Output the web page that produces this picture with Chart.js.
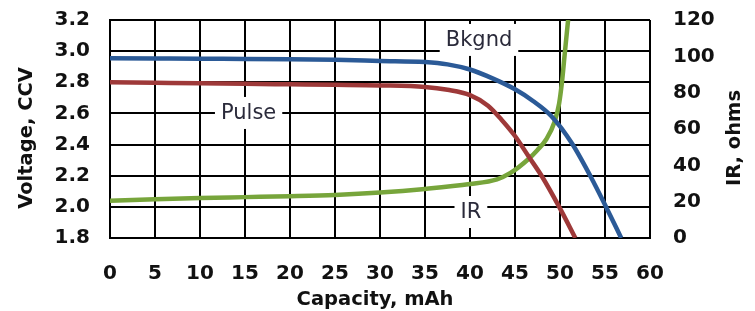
<!DOCTYPE html>
<html><head><meta charset="utf-8">
<script src="https://cdn.jsdelivr.net/npm/chart.js@4"></script>
<style>html,body{margin:0;padding:0;background:#fff;overflow:hidden;}</style>
</head><body>
<canvas id="c" width="755" height="311"></canvas>
<script>
// Tick labels
const capacityTicks = [0, 5, 10, 15, 20, 25, 30, 35, 40, 45, 50, 55, 60];
const voltageTicks = [1.8, 2.0, 2.2, 2.4, 2.6, 2.8, 3.0, 3.2];
const irTicks = [0, 20, 40, 60, 80, 100, 120];

// Axis titles
const xTitle = 'Capacity, mAh';
const yTitle = 'Voltage, CCV';
const y1Title = 'IR, ohms';

// Bkgnd (voltage, left axis)
const capBkgnd = [0, 5, 10, 15, 20, 25, 30, 35, 37.5, 40, 42.5, 45, 47, 49, 51.3, 53.4, 55.2, 56.8];
const voltBkgnd = [2.955, 2.953, 2.951, 2.95, 2.948, 2.944, 2.937, 2.93, 2.915, 2.882, 2.825, 2.755, 2.68, 2.585, 2.41, 2.195, 1.99, 1.80];

// Pulse (voltage, left axis)
const capPulse = [0, 5, 10, 15, 20, 25, 30, 35, 37.5, 40, 42, 43.5, 45, 46.5, 48, 50, 51.7];
const voltPulse = [2.80, 2.797, 2.794, 2.79, 2.787, 2.784, 2.78, 2.77, 2.752, 2.718, 2.65, 2.56, 2.455, 2.325, 2.195, 1.99, 1.80];

// IR (ohms, right axis)
const capIR = [0, 5, 10, 15, 20, 25, 30, 35, 40, 43, 44.5, 46.5, 47.5, 48.5, 49.4, 49.9, 50.2, 50.5, 50.9];
const irOhms = [20.5, 21.3, 22, 22.5, 23, 23.7, 25, 27, 29.7, 32.3, 35.8, 43.5, 48.5, 54.5, 64, 74, 85, 100, 120];

// In-plot labels
const plotLabels = ['Bkgnd', 'Pulse', 'IR'];
const labelCapacity = [41.0, 15.4, 40.1];
const labelVoltage = [3.072, 2.603, 1.967];

const FONT = '"DejaVu Sans", Verdana, sans-serif';
const tickFont = { family: FONT, size: 20, weight: 'bold' };
const toPts = (xs, ys) => xs.map((x, i) => ({ x: x, y: ys[i] }));

const labelPlugin = {
  id: 'plotLabels',
  beforeDatasetsDraw(chart) {
    const ctx = chart.ctx, xs = chart.scales.x, ys = chart.scales.y;
    ctx.save();
    ctx.font = '21px ' + FONT;
    ctx.textAlign = 'center';
    ctx.textBaseline = 'middle';
    plotLabels.forEach((t, i) => {
      const px = xs.getPixelForValue(labelCapacity[i]);
      const py = ys.getPixelForValue(labelVoltage[i]);
      const w = ctx.measureText(t).width + 12;
      ctx.fillStyle = '#fff';
      ctx.fillRect(px - w / 2, py - 16, w, 32);
      ctx.fillStyle = '#2a2a3a';
      ctx.fillText(t, px, py + 1);
    });
    ctx.restore();
  },
  afterDraw(chart) {
    const ctx = chart.ctx, a = chart.chartArea;
    const ys = chart.scales.y, y1 = chart.scales.y1;
    const cy = (a.top + a.bottom) / 2 + 9;
    ctx.save();
    ctx.fillStyle = '#111';
    ctx.font = 'bold 19.5px ' + FONT;
    ctx.textAlign = 'center';
    ctx.textBaseline = 'middle';
    ctx.fillText(xTitle, (a.left + a.right) / 2 - 5, chart.height - 11);
    ctx.save();
    ctx.translate(ys.left + 27, cy);
    ctx.rotate(-Math.PI / 2);
    ctx.fillText(yTitle, 0, 0);
    ctx.restore();
    ctx.save();
    ctx.translate(y1.right - 20, cy);
    ctx.rotate(-Math.PI / 2);
    ctx.fillText(y1Title, 0, 0);
    ctx.restore();
    ctx.restore();
  }
};

const lineStyle = { borderWidth: 4.5, pointRadius: 0, cubicInterpolationMode: 'monotone', fill: false };

new Chart(document.getElementById('c'), {
  type: 'line',
  data: {
    datasets: [
      Object.assign({ label: 'Bkgnd', data: toPts(capBkgnd, voltBkgnd), yAxisID: 'y', borderColor: '#2b5a97' }, lineStyle),
      Object.assign({ label: 'Pulse', data: toPts(capPulse, voltPulse), yAxisID: 'y', borderColor: '#9e3939' }, lineStyle),
      Object.assign({ label: 'IR', data: toPts(capIR, irOhms), yAxisID: 'y1', borderColor: '#77a53b' }, lineStyle)
    ]
  },
  options: {
    responsive: false,
    animation: false,
    devicePixelRatio: 1,
    layout: { padding: { top: 20, left: 0, right: 0, bottom: 0 } },
    plugins: { legend: { display: false }, tooltip: { enabled: false } },
    scales: {
      x: {
        type: 'linear', position: 'bottom', min: 0, max: 60,
        afterBuildTicks: s => { s.ticks = capacityTicks.map(v => ({ value: v })); },
        afterFit: s => { s.height = 73; s.paddingLeft = 0; s.paddingRight = 0; },
        ticks: { font: tickFont, color: '#111', padding: 24, maxRotation: 0, autoSkip: false },
        grid: { color: '#000', lineWidth: 2, drawTicks: false },
        border: { color: '#000', width: 2 },
        title: { display: false }
      },
      y: {
        position: 'left', min: 1.8, max: 3.2,
        afterBuildTicks: s => { s.ticks = voltageTicks.map(v => ({ value: v })); },
        afterFit: s => { s.width = 110; s.paddingTop = 0; s.paddingBottom = 0; },
        ticks: { font: tickFont, color: '#111', padding: 20, callback: v => Number(v).toFixed(1) },
        grid: { color: '#000', lineWidth: 2, drawTicks: false },
        border: { color: '#000', width: 2 },
        title: { display: false }
      },
      y1: {
        position: 'right', min: 0, max: 120,
        afterBuildTicks: s => { s.ticks = irTicks.map(v => ({ value: v })); },
        afterFit: s => { s.width = 105; s.paddingTop = 0; s.paddingBottom = 0; },
        ticks: { font: tickFont, color: '#111', padding: 23 },
        grid: { display: false, drawTicks: false },
        border: { display: false },
        title: { display: false }
      }
    }
  },
  plugins: [labelPlugin]
});
</script>
</body></html>
